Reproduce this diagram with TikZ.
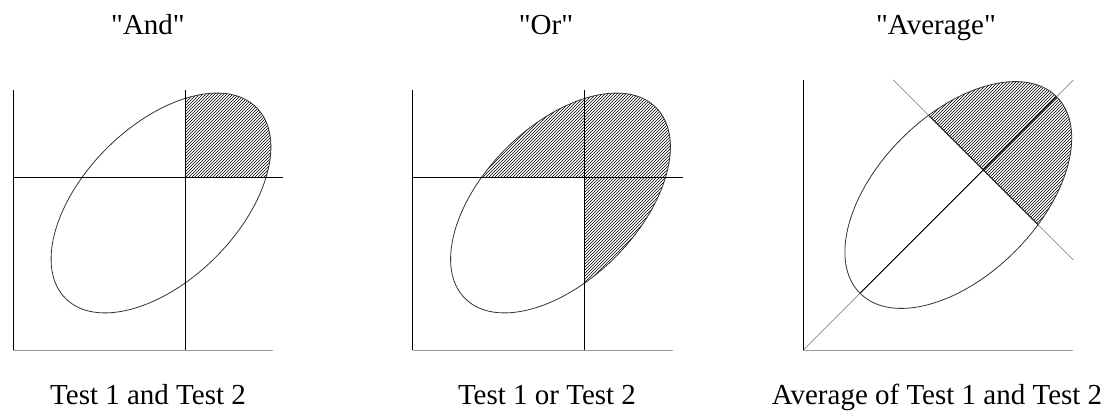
\documentclass[tikz,border=0pt]{standalone}
\usepackage{fontspec}
\setmainfont{Liberation Serif}
\usetikzlibrary{patterns}

\begin{document}
\begin{tikzpicture}[x=1pt,y=1pt,
    ttl/.style={font=\fontsize{29}{34}\selectfont,anchor=base,inner sep=0pt},
    axl/.style={line width=0.8pt},
    axb/.style={line width=0.9pt,draw=black!40},
    cut/.style={line width=0.8pt},
    ell/.style={line width=0.8pt,draw=black!80},
    diag/.style={line width=0.7pt,draw=black!45},
    hatch/.style={pattern=north east lines}]
  \useasboundingbox (0,0) rectangle (1111,414);
  % titles and captions
  \node[ttl] (tand) at (148,379) {\textquotedbl And\textquotedbl};
  \node[ttl] (tor) at (546,379) {\textquotedbl Or\textquotedbl};
  \node[ttl] (tavg) at (936,379) {\textquotedbl Average\textquotedbl};
  \node[ttl] (cand) at (148,9) {Test 1 and Test 2};
  \node[ttl] (cor) at (547,9) {Test 1 or Test 2};
  \node[ttl] (cavg) at (937,9) {Average of Test 1 and Test 2};
  % "And"
  \begin{scope}[shift={(13,64)}]
    \begin{scope}
      \clip (172,173) rectangle (300,300);
      \fill[hatch] (148,147) ellipse [x radius=135, y radius=77, rotate=45];
    \end{scope}
    \draw[ell] (148,147) ellipse [x radius=135, y radius=77, rotate=45];
    \draw[axb] (0,0) -- (260,0);
    \draw[axl] (0,0) -- (0,260);
    \draw[cut] (0,173) -- (270,173);
    \draw[cut] (172,0) -- (172,260);
  \end{scope}
  % "Or"
  \begin{scope}[shift={(412.5,64)}]
    \begin{scope}
      \clip (148,147) ellipse [x radius=135, y radius=77, rotate=45];
      \fill[hatch] (0,173) -- (172,173) -- (172,0) -- (300,0) -- (300,300) -- (0,300) -- cycle;
    \end{scope}
    \draw[ell] (148,147) ellipse [x radius=135, y radius=77, rotate=45];
    \draw[axb] (0,0) -- (260,0);
    \draw[axl] (0,0) -- (0,260);
    \draw[cut] (0,173) -- (270,173);
    \draw[cut] (172,0) -- (172,260);
  \end{scope}
  % "Average"
  \begin{scope}[shift={(803.3,64)}]
    \begin{scope}
      \clip (155,155) ellipse [x radius=139, y radius=80, rotate=45];
      \fill[hatch] (0,359) -- (359,0) -- (400,400) -- cycle;
    \end{scope}
    \draw[ell] (155,155) ellipse [x radius=139, y radius=80, rotate=45];
    \draw[diag] (0,0) -- (270,270);
    \draw[diag] (90,270) -- (270,90);
    \begin{scope}
      \clip (155,155) ellipse [x radius=139, y radius=80, rotate=45];
      \draw[cut] (0,0) -- (270,270);
      \draw[cut] (90,270) -- (270,90);
    \end{scope}
    \draw[axb] (0,0) -- (270,0);
    \draw[axl] (0,0) -- (0,270);
  \end{scope}
\end{tikzpicture}
\end{document}
